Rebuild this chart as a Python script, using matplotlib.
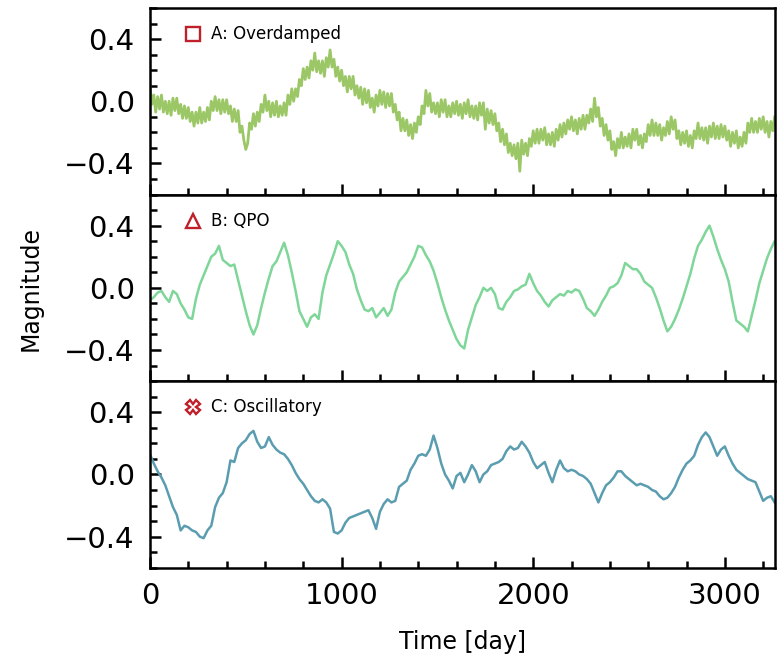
import numpy as np
import matplotlib
matplotlib.use('Agg')
import matplotlib.pyplot as plt
from matplotlib.ticker import MultipleLocator

# A is read every 10 days, B and C every 20 days (0 .. 3260)
time_a = np.arange(0, 3261, 10)
time_bc = np.arange(0, 3261, 20)

mag_a = [
	0.10, -0.02, 0.04, -0.07, 0.03, -0.05, 0.04, -0.07, 0.00, -0.08,
	0.00, -0.09, 0.02, -0.06, 0.02, -0.08, -0.02, -0.11, -0.03, -0.11,
	-0.04, -0.13, -0.07, -0.16, -0.07, -0.14, -0.04, -0.14, -0.07, -0.13,
	-0.04, -0.12, 0.00, -0.06, 0.03, -0.06, 0.01, -0.08, 0.01, -0.07,
	0.01, -0.08, -0.03, -0.13, -0.05, -0.13, -0.06, -0.20, -0.16, -0.25,
	-0.31, -0.27, -0.14, -0.18, -0.08, -0.16, -0.07, -0.13, -0.02, -0.07,
	0.04, -0.06, 0.00, -0.10, -0.01, -0.09, 0.00, -0.10, -0.03, -0.09,
	-0.01, -0.09, 0.04, -0.02, 0.08, 0.00, 0.08, 0.03, 0.14, 0.10,
	0.21, 0.14, 0.22, 0.15, 0.26, 0.20, 0.31, 0.19, 0.26, 0.18,
	0.26, 0.16, 0.28, 0.22, 0.33, 0.22, 0.27, 0.16, 0.22, 0.13,
	0.20, 0.10, 0.16, 0.06, 0.16, 0.08, 0.16, 0.04, 0.10, 0.02,
	0.09, -0.02, 0.08, -0.01, 0.07, -0.04, 0.02, -0.07, 0.04, -0.03,
	0.07, -0.02, 0.06, -0.04, 0.05, -0.03, 0.05, -0.07, -0.02, -0.12,
	-0.07, -0.19, -0.11, -0.19, -0.12, -0.22, -0.15, -0.24, -0.14, -0.20,
	-0.10, -0.15, -0.03, -0.08, 0.07, -0.03, 0.05, -0.07, -0.01, -0.08,
	-0.01, -0.10, 0.01, -0.07, 0.01, -0.10, -0.03, -0.10, -0.01, -0.08,
	0.00, -0.09, -0.02, -0.11, -0.01, -0.08, 0.01, -0.10, -0.03, -0.11,
	-0.03, -0.12, -0.01, -0.09, -0.01, -0.18, -0.05, -0.14, -0.06, -0.15,
	-0.08, -0.19, -0.14, -0.26, -0.18, -0.28, -0.21, -0.33, -0.27, -0.35,
	-0.28, -0.37, -0.27, -0.45, -0.25, -0.34, -0.27, -0.35, -0.24, -0.29,
	-0.19, -0.27, -0.18, -0.27, -0.18, -0.25, -0.17, -0.28, -0.21, -0.28,
	-0.20, -0.29, -0.18, -0.25, -0.15, -0.23, -0.14, -0.21, -0.12, -0.18,
	-0.10, -0.19, -0.12, -0.21, -0.11, -0.18, -0.09, -0.18, -0.09, -0.14,
	-0.05, -0.13, 0.02, -0.10, -0.04, -0.16, -0.11, -0.22, -0.15, -0.25,
	-0.19, -0.31, -0.26, -0.35, -0.24, -0.30, -0.20, -0.30, -0.23, -0.29,
	-0.21, -0.30, -0.18, -0.25, -0.18, -0.28, -0.22, -0.30, -0.21, -0.26,
	-0.15, -0.22, -0.12, -0.22, -0.14, -0.22, -0.15, -0.25, -0.17, -0.22,
	-0.13, -0.21, -0.10, -0.18, -0.12, -0.24, -0.19, -0.28, -0.20, -0.27,
	-0.19, -0.29, -0.22, -0.30, -0.19, -0.24, -0.14, -0.24, -0.17, -0.25,
	-0.17, -0.27, -0.16, -0.23, -0.14, -0.24, -0.16, -0.24, -0.15, -0.23,
	-0.16, -0.25, -0.19, -0.29, -0.20, -0.27, -0.19, -0.30, -0.23, -0.29,
	-0.20, -0.27, -0.14, -0.20, -0.11, -0.20, -0.13, -0.20, -0.11, -0.18,
	-0.10, -0.20, -0.13, -0.23, -0.13, -0.19, -0.10,
]

mag_b = [
	-0.08, -0.06, -0.03, -0.02, -0.06, -0.09, -0.02, -0.04, -0.10, -0.14,
	-0.19, -0.20, -0.07, 0.02, 0.08, 0.14, 0.20, 0.22, 0.27, 0.18,
	0.16, 0.14, 0.15, 0.05, -0.05, -0.15, -0.24, -0.30, -0.24, -0.13,
	-0.03, 0.06, 0.14, 0.17, 0.23, 0.29, 0.21, 0.10, -0.02, -0.15,
	-0.20, -0.25, -0.19, -0.17, -0.20, -0.03, 0.08, 0.15, 0.22, 0.30,
	0.27, 0.23, 0.15, 0.09, -0.01, -0.08, -0.14, -0.15, -0.13, -0.19,
	-0.16, -0.13, -0.18, -0.14, -0.03, 0.04, 0.07, 0.10, 0.15, 0.20,
	0.27, 0.26, 0.21, 0.17, 0.11, 0.03, -0.06, -0.14, -0.21, -0.27,
	-0.33, -0.37, -0.39, -0.27, -0.19, -0.11, -0.06, 0.00, -0.02, 0.00,
	-0.04, -0.13, -0.14, -0.09, -0.06, -0.02, -0.01, 0.01, 0.02, 0.09,
	0.03, -0.02, -0.05, -0.09, -0.12, -0.08, -0.06, -0.04, -0.05, -0.02,
	-0.03, -0.01, -0.02, -0.07, -0.13, -0.15, -0.18, -0.14, -0.09, -0.05,
	0.00, 0.01, 0.03, 0.08, 0.16, 0.14, 0.12, 0.12, 0.09, 0.04,
	0.02, 0.00, -0.06, -0.13, -0.21, -0.28, -0.25, -0.20, -0.14, -0.07,
	0.01, 0.09, 0.19, 0.27, 0.31, 0.36, 0.40, 0.33, 0.25, 0.18,
	0.12, 0.04, -0.09, -0.21, -0.23, -0.25, -0.28, -0.18, -0.08, 0.03,
	0.11, 0.19, 0.25, 0.30,
]

mag_c = [
	0.13, 0.07, 0.02, -0.02, -0.07, -0.14, -0.21, -0.26, -0.36, -0.33,
	-0.34, -0.36, -0.37, -0.40, -0.41, -0.36, -0.33, -0.21, -0.15, -0.12,
	-0.05, 0.09, 0.08, 0.17, 0.20, 0.22, 0.26, 0.28, 0.21, 0.17,
	0.18, 0.24, 0.19, 0.16, 0.14, 0.13, 0.10, 0.06, 0.01, -0.03,
	-0.06, -0.10, -0.14, -0.17, -0.18, -0.16, -0.18, -0.22, -0.37, -0.38,
	-0.36, -0.31, -0.28, -0.27, -0.26, -0.25, -0.24, -0.23, -0.28, -0.35,
	-0.24, -0.19, -0.16, -0.18, -0.17, -0.08, -0.06, -0.04, 0.03, 0.07,
	0.12, 0.13, 0.12, 0.16, 0.25, 0.17, 0.07, 0.00, -0.04, -0.09,
	-0.01, 0.01, -0.05, 0.00, 0.06, 0.02, -0.05, 0.00, 0.02, 0.06,
	0.07, 0.08, 0.10, 0.15, 0.18, 0.16, 0.17, 0.21, 0.18, 0.14,
	0.08, 0.04, 0.06, 0.08, 0.01, -0.05, 0.03, 0.09, 0.04, 0.02,
	0.03, 0.02, 0.00, -0.01, -0.03, -0.06, -0.12, -0.18, -0.12, -0.07,
	-0.05, -0.02, 0.02, 0.02, -0.01, -0.03, -0.05, -0.07, -0.06, -0.07,
	-0.08, -0.10, -0.11, -0.14, -0.16, -0.15, -0.12, -0.08, -0.02, 0.03,
	0.07, 0.09, 0.12, 0.19, 0.24, 0.27, 0.24, 0.18, 0.12, 0.16,
	0.18, 0.12, 0.07, 0.03, 0.01, -0.01, -0.03, -0.04, -0.05, -0.11,
	-0.17, -0.15, -0.14, -0.18,
]

labels = ['A: Overdamped', 'B: QPO', 'C: Oscillatory']
markers = ['s', '^', 'X']
colors = ['#9cc766', '#7fd699', '#5b9db0']
widths = [2.0, 1.8, 1.8]

fig, axes = plt.subplots(3, 1, figsize=(7.77, 6.64), dpi=100, sharex=True)
fig.subplots_adjust(left=0.193, right=0.997, top=0.988, bottom=0.145, hspace=0)

series = [(time_a, mag_a), (time_bc, mag_b), (time_bc, mag_c)]
for ax, (t, mag), lab, mk, col, lw in zip(axes, series, labels, markers, colors, widths):
	ax.plot(t, mag, color=col, lw=lw)
	ax.set_ylim(-0.6, 0.6)
	ax.set_xlim(0, 3260)
	ax.yaxis.set_major_locator(MultipleLocator(0.4))
	ax.yaxis.set_minor_locator(MultipleLocator(0.1))
	ax.xaxis.set_major_locator(MultipleLocator(1000))
	ax.xaxis.set_minor_locator(MultipleLocator(200))
	ax.tick_params(which='both', direction='in', width=1.8, labelsize=21)
	ax.tick_params(axis='y', pad=11)
	ax.tick_params(axis='x', pad=10)
	ax.tick_params(which='major', length=8)
	ax.tick_params(which='minor', length=5)
	for s in ax.spines.values():
		s.set_linewidth(1.8)
	ax.plot([0.069], [0.86], transform=ax.transAxes, marker=mk, ms=10,
		mfc='white', mec='#c0202a', mew=1.7, ls='none')
	ax.text(0.098, 0.86, lab, transform=ax.transAxes, fontsize=12, va='center')

axes[-1].set_xlabel('Time [day]', fontsize=17, labelpad=15)
fig.text(0.04, 0.565, 'Magnitude', rotation=90, fontsize=17, ha='center', va='center')

plt.savefig('out.png')
